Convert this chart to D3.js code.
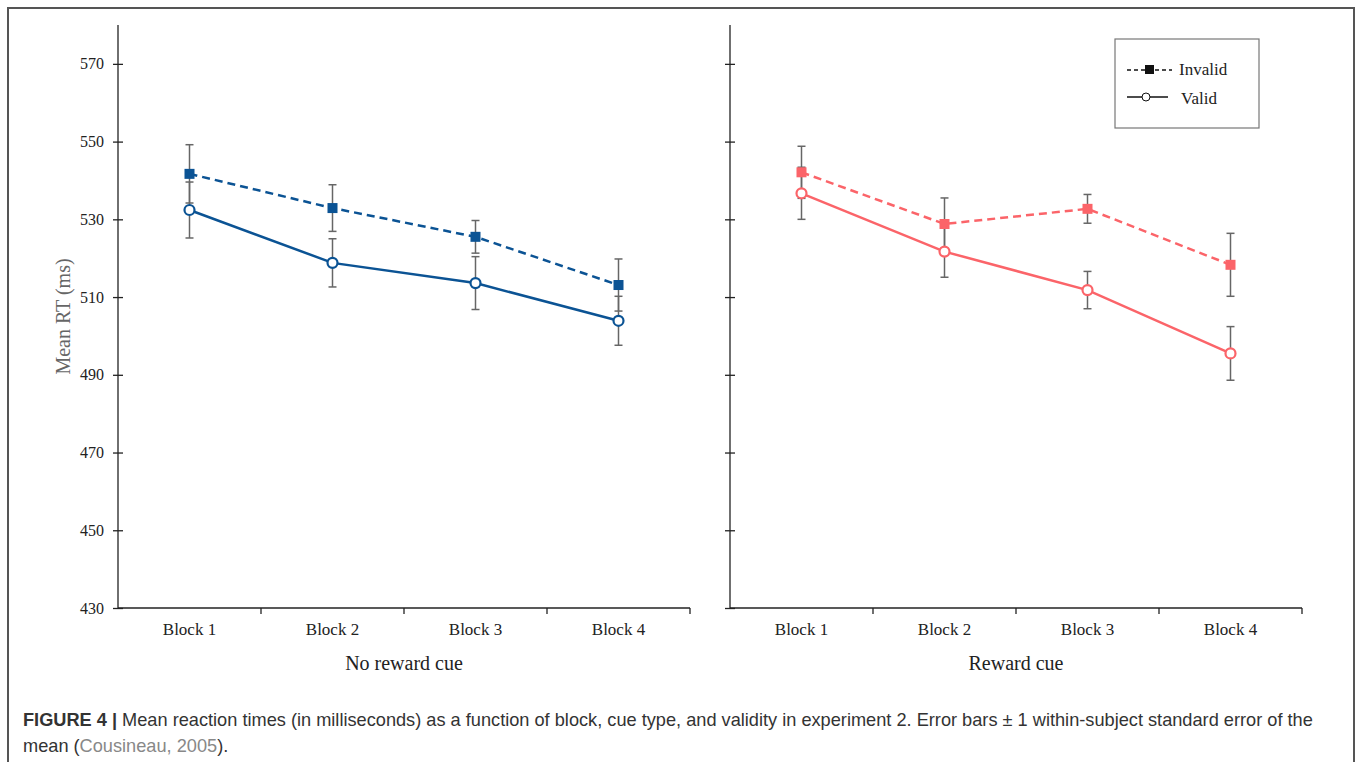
<!DOCTYPE html>
<html lang="en">
<head>
<meta charset="UTF-8">
<title>Figure 4 - Mean RT by block</title>
<script src="https://d3js.org/d3.v7.min.js"></script>
<style>
    body { margin: 0; background: #fff; }
    svg { display: block; }
    .tick text { font-family: "Liberation Serif", "Times New Roman", serif; font-size: 16px; fill: #222; }
    .caption { font-family: "Liberation Sans", Arial, sans-serif; font-size: 18.2px; fill: #333; }
</style>
</head>
<body>
<svg id="chart" width="1357" height="762"></svg>
<script>
// data
const blocks = ["Block 1", "Block 2", "Block 3", "Block 4"];
const panels = ["No reward cue", "Reward cue"];
const yTicks = [430, 450, 470, 490, 510, 530, 550, 570];

const noRewardInvalid = [541.7, 532.9, 525.5, 513.1];
const noRewardInvalidSE = [7.5, 6.0, 4.2, 6.7];
const noRewardValid = [532.4, 518.8, 513.6, 503.9];
const noRewardValidSE = [7.2, 6.2, 6.8, 6.3];

const rewardInvalid = [542.1, 528.8, 532.7, 518.3];
const rewardInvalidSE = [6.7, 6.7, 3.7, 8.1];
const rewardValid = [536.7, 521.7, 511.8, 495.5];
const rewardValidSE = [6.7, 6.6, 4.8, 6.9];

const blue = "#0b5394", pink = "#fb6469", barGrey = "#666";
const serif = "'Liberation Serif', 'Times New Roman', serif";

const svg = d3.select("#chart");

// outer frame
svg.append("rect")
    .attr("x", 8).attr("y", 8)
    .attr("width", 1346).attr("height", 800)
    .attr("fill", "none").attr("stroke", "#555").attr("stroke-width", 2);

const y = d3.scaleLinear().domain([430, 580]).range([608, 25]);

const panelDefs = [
    { x0: 118, x1: 690, title: panels[0], color: blue, labels: true,
      inv: noRewardInvalid, invSE: noRewardInvalidSE, val: noRewardValid, valSE: noRewardValidSE },
    { x0: 730, x1: 1302, title: panels[1], color: pink, labels: false,
      inv: rewardInvalid, invSE: rewardInvalidSE, val: rewardValid, valSE: rewardValidSE }
];

panelDefs.forEach(p => {
    const x = d3.scaleBand().domain(blocks).range([p.x0, p.x1]);
    const cx = b => x(b) + x.bandwidth() / 2;
    const g = svg.append("g");

    // y axis with cross ticks
    const yAx = g.append("g")
        .attr("transform", `translate(${p.x0},0)`)
        .call(d3.axisLeft(y).tickValues(yTicks).tickSize(5).tickPadding(9).tickFormat(p.labels ? d3.format("d") : ""));
    yAx.select(".domain").attr("d", `M0,${y(580)}V${y(430)}`);
    yAx.selectAll(".tick line").attr("x1", -5).attr("x2", 5);
    yAx.selectAll("path, line").attr("stroke", "#222").attr("stroke-width", 1.3);

    // x axis: ticks at band boundaries
    const xAx = g.append("g").attr("transform", `translate(0,${y(430)})`);
    xAx.append("line").attr("x1", p.x0).attr("x2", p.x1)
        .attr("stroke", "#222").attr("stroke-width", 1.3);
    blocks.slice(1).concat([null]).forEach(b => {
        const bx = b ? x(b) : p.x1;
        xAx.append("line").attr("x1", bx).attr("x2", bx).attr("y1", 0).attr("y2", 6)
            .attr("stroke", "#222").attr("stroke-width", 1.3);
    });
    xAx.selectAll(".blk").data(blocks).enter().append("text")
        .attr("x", d => cx(d)).attr("y", 27)
        .attr("text-anchor", "middle")
        .style("font-family", serif)
        .style("font-size", "17px").attr("fill", "#222")
        .text(d => d);

    g.append("text")
        .attr("x", (p.x0 + p.x1) / 2).attr("y", 670)
        .attr("text-anchor", "middle")
        .style("font-family", serif)
        .style("font-size", "20px").attr("fill", "#222")
        .text(p.title);

    // error bars
    const bars = [];
    blocks.forEach((b, i) => {
        bars.push({ b, m: p.inv[i], se: p.invSE[i] });
        bars.push({ b, m: p.val[i], se: p.valSE[i] });
    });
    const eb = g.selectAll(".eb").data(bars).enter().append("g")
        .attr("stroke", barGrey).attr("stroke-width", 1.5);
    eb.append("line")
        .attr("x1", d => cx(d.b)).attr("x2", d => cx(d.b))
        .attr("y1", d => y(d.m + d.se)).attr("y2", d => y(d.m - d.se));
    [1, -1].forEach(s => {
        eb.append("line")
            .attr("x1", d => cx(d.b) - 4).attr("x2", d => cx(d.b) + 4)
            .attr("y1", d => y(d.m + s * d.se)).attr("y2", d => y(d.m + s * d.se));
    });

    const line = d3.line().x((d, i) => cx(blocks[i])).y(d => y(d));
    g.append("path").datum(p.inv).attr("d", line)
        .attr("fill", "none").attr("stroke", p.color).attr("stroke-width", 2.5)
        .attr("stroke-dasharray", "8,5");
    g.append("path").datum(p.val).attr("d", line)
        .attr("fill", "none").attr("stroke", p.color).attr("stroke-width", 2.5);

    g.selectAll(".sq").data(p.inv).enter().append("rect")
        .attr("x", (d, i) => cx(blocks[i]) - 5).attr("y", d => y(d) - 5)
        .attr("width", 10).attr("height", 10).attr("fill", p.color);
    g.selectAll(".ci").data(p.val).enter().append("circle")
        .attr("cx", (d, i) => cx(blocks[i])).attr("cy", d => y(d))
        .attr("r", 5).attr("fill", "#fff").attr("stroke", p.color).attr("stroke-width", 2.2);
});

// y axis title
svg.append("text")
    .attr("transform", `translate(70,${(y(580) + y(430)) / 2}) rotate(-90)`)
    .attr("text-anchor", "middle")
    .style("font-family", serif)
    .style("font-size", "20px").attr("fill", "#666")
    .text("Mean RT (ms)");

// legend
const lg = svg.append("g");
lg.append("rect").attr("x", 1115).attr("y", 39).attr("width", 144).attr("height", 89)
    .attr("fill", "#fff").attr("stroke", "#777").attr("stroke-width", 1.2);
lg.append("line").attr("x1", 1127).attr("x2", 1172).attr("y1", 70).attr("y2", 70)
    .attr("stroke", "#111").attr("stroke-width", 1.3).attr("stroke-dasharray", "4,3");
lg.append("rect").attr("x", 1145).attr("y", 65).attr("width", 9).attr("height", 9).attr("fill", "#111");
lg.append("line").attr("x1", 1127).attr("x2", 1168).attr("y1", 97).attr("y2", 97)
    .attr("stroke", "#111").attr("stroke-width", 1.3);
lg.append("circle").attr("cx", 1146).attr("cy", 97).attr("r", 4)
    .attr("fill", "#fff").attr("stroke", "#111").attr("stroke-width", 1);
lg.selectAll(".lt").data(["Invalid", "Valid"]).enter().append("text")
    .attr("x", (d, i) => i ? 1181 : 1179).attr("y", (d, i) => 75 + i * 29)
    .style("font-family", serif)
    .style("font-size", "17px").attr("fill", "#222")
    .text(d => d);

// caption
const cap1 = svg.append("text").attr("class", "caption").attr("x", 23).attr("y", 726);
cap1.append("tspan").attr("font-weight", "bold").text("FIGURE 4 | ");
cap1.append("tspan").text("Mean reaction times (in milliseconds) as a function of block, cue type, and validity in experiment 2. Error bars \u00b1 1 within-subject standard error of the");
const cap2 = svg.append("text").attr("class", "caption").attr("x", 23).attr("y", 752);
cap2.append("tspan").text("mean (");
cap2.append("tspan").attr("fill", "#888").text("Cousineau, 2005");
cap2.append("tspan").text(").");
</script>
</body>
</html>
